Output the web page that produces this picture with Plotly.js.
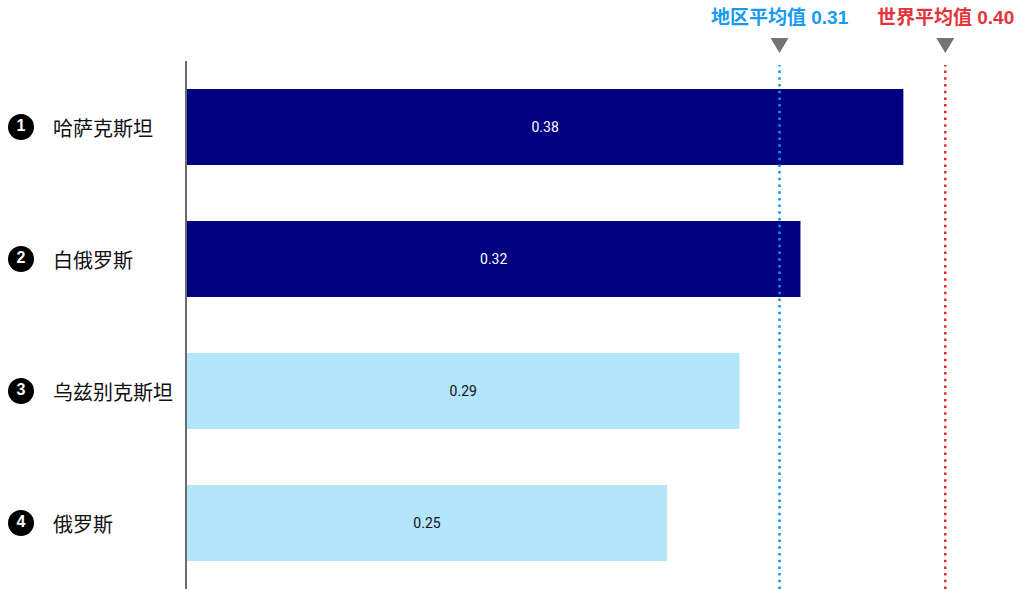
<!DOCTYPE html>
<html>
<head>
<meta charset="utf-8">
<script src="https://cdn.plot.ly/plotly-3.0.1.min.js"></script>
<style>html,body{margin:0;padding:0;background:#fff;}#chart{width:1023px;height:589px;}</style>
</head>
<body>
<div id="chart"></div>
<script>
// ---- data ----
const countries = ['哈萨克斯坦', '白俄罗斯', '乌兹别克斯坦', '俄罗斯'];
const ranks = ['1', '2', '3', '4'];
const values = [0.376, 0.322, 0.290, 0.252];
const barColors = ['#000080', '#000080', '#b3e5fc', '#b3e5fc'];
const textColors = ['#ffffff', '#ffffff', '#111111', '#111111'];
const regionAvg = 0.311;
const worldAvg = 0.398;
const regionLabel = '地区平均值';
const worldLabel = '世界平均值';

// ---- layout constants ----
const W = 1023, H = 589;
const leftW = 187, mT = 61;
const xMax = 0.4388;
const plotW = W - leftW, plotH = H - mT;
const pxPerUnit = plotW / xMax;
const pxY = py => (H - py) / plotH;       // pixel y -> paper

const cjk = '"Liberation Sans", Arial, "Noto Sans CJK SC", sans-serif';

const barTrace = {
  type: 'bar',
  orientation: 'h',
  y: countries,
  x: values,
  xaxis: 'x', yaxis: 'y',
  marker: {color: barColors},
  width: 0.575,
  text: values,
  texttemplate: '%{x:.2f}',
  textposition: 'inside',
  insidetextanchor: 'middle',
  textfont: {family: 'Roboto, "Liberation Sans", Arial, sans-serif', size: 14, color: textColors},
  hoverinfo: 'skip'
};

// numbered badges in the left label column (pixel-scaled helper axis x2)
const badgeTrace = {
  type: 'scatter',
  mode: 'markers+text',
  xaxis: 'x2', yaxis: 'y',
  y: countries,
  x: countries.map(() => 21),
  marker: {size: 26, color: '#000000', line: {width: 0}},
  text: ranks.map(r => `<b>${r}</b>`),
  textposition: 'middle center',
  textfont: {family: '"Liberation Sans", Arial, sans-serif', size: 16, color: '#ffffff'},
  hoverinfo: 'skip'
};

const shapes = [];
const annotations = [];

// reference lines, triangles, labels
[[regionAvg, '#0d94f2', '#169bf0', regionLabel], [worldAvg, '#e5262f', '#e5333b', worldLabel]].forEach(([v, lc, tc, lab]) => {
  shapes.push({type: 'line', xref: 'x', yref: 'paper', x0: v, x1: v, y0: 0, y1: pxY(65),
    line: {color: lc, width: 2.5, dash: '2.5px,4.2px'}, layer: 'above'});
  const hw = 9 / pxPerUnit;
  const yt = pxY(38), yb = pxY(53);
  shapes.push({type: 'path', xref: 'x', yref: 'paper',
    path: `M ${v - hw},${yt} L ${v + hw},${yt} L ${v},${yb} Z`,
    fillcolor: '#737373', line: {width: 0}});
  annotations.push({xref: 'x', yref: 'paper', x: v, y: pxY(18), xanchor: 'center', yanchor: 'middle',
    text: `<b>${lab} ${v.toFixed(2)}</b>`, showarrow: false,
    font: {family: cjk, size: 19, color: tc}});
});

// category name labels
countries.forEach((c) => {
  annotations.push({xref: 'x2', yref: 'y', x: 51, y: c, xanchor: 'left', yanchor: 'middle',
    text: c, showarrow: false,
    font: {family: '"Noto Sans CJK SC", sans-serif', size: 20, color: '#111111'}});
});

const layout = {
  width: W, height: H,
  margin: {l: 0, r: 0, t: mT, b: 0, pad: 0},
  paper_bgcolor: '#ffffff', plot_bgcolor: '#ffffff',
  showlegend: false,
  xaxis: {domain: [leftW / W, 1], range: [0, xMax], visible: false, fixedrange: true, anchor: 'y'},
  xaxis2: {domain: [0, leftW / W], range: [0, leftW], visible: false, fixedrange: true, anchor: 'y'},
  yaxis: {type: 'category', autorange: 'reversed', showticklabels: false, ticks: '', anchor: 'x',
    showgrid: false, zeroline: false, showline: true, linecolor: '#6b6b6b', linewidth: 2, fixedrange: true},
  shapes: shapes,
  annotations: annotations
};

Plotly.newPlot('chart', [barTrace, badgeTrace], layout, {displayModeBar: false, staticPlot: true});
</script>
</body>
</html>
